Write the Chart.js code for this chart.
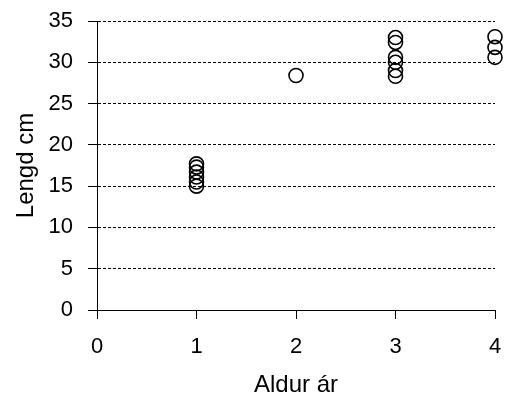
<!DOCTYPE html>
<html>
<head>
<meta charset="utf-8">
<script src="https://cdn.jsdelivr.net/npm/chart.js@4/dist/chart.umd.min.js"></script>
<style>
  html, body { margin: 0; padding: 0; background: #fff; }
  #wrap { width: 506px; height: 400px; }
</style>
</head>
<body>
<div id="wrap"><canvas id="lengdChart" width="506" height="400"></canvas></div>
<script>
// gögn lesin af myndinni
const aldur = [1, 1, 1, 1, 1, 1, 2, 3, 3, 3, 3, 3, 3, 4, 4, 4];
const lengd = [15.0, 15.5, 16.1, 16.7, 17.3, 17.7, 28.4, 33.0, 32.4, 30.6, 30.0, 29.0, 28.3, 33.1, 31.8, 30.6];
const xTicks = [0, 1, 2, 3, 4];
const yTicks = [0, 5, 10, 15, 20, 25, 30, 35];

const points = aldur.map((a, i) => ({ x: a, y: lengd[i] }));
const tickFont = { family: 'Liberation Sans, Arial, sans-serif', size: 22 };
const titleFont = { family: 'Liberation Sans, Arial, sans-serif', size: 24 };

document.addEventListener('DOMContentLoaded', function() {
    const ctx = document.getElementById('lengdChart').getContext('2d');
    new Chart(ctx, {
        type: 'scatter',
        data: {
            datasets: [{
                data: points,
                clip: false,
                pointStyle: 'circle',
                pointRadius: 7,
                pointHoverRadius: 7,
                pointBorderWidth: 1.6,
                pointBorderColor: '#000',
                pointBackgroundColor: 'rgba(0,0,0,0)'
            }]
        },
        options: {
            responsive: false,
            animation: false,
            layout: { padding: { left: 0, right: 11, top: 21, bottom: 0 } },
            plugins: { legend: { display: false }, tooltip: { enabled: false } },
            scales: {
                x: {
                    type: 'linear',
                    min: xTicks[0],
                    max: xTicks[xTicks.length - 1],
                    afterBuildTicks: s => { s.ticks = xTicks.map(v => ({ value: v })); },
                    afterFit: s => {
                        s.height = 90;
                        s.paddingLeft = 0; s.paddingRight = 0;
                    },
                    ticks: { color: '#000', font: tickFont, padding: 15, maxRotation: 0 },
                    grid: { drawOnChartArea: false, drawTicks: true, tickLength: 9, tickColor: '#000', tickWidth: 1 },
                    border: { color: '#000', width: 1 },
                    title: { display: true, text: 'Aldur ár', color: '#000', font: titleFont, padding: { top: 0, bottom: 0 } }
                },
                y: {
                    type: 'linear',
                    min: yTicks[0],
                    max: yTicks[yTicks.length - 1],
                    afterBuildTicks: s => { s.ticks = yTicks.map(v => ({ value: v })); },
                    afterFit: s => {
                        s.width = 97;
                        s.paddingTop = 0; s.paddingBottom = 0;
                    },
                    ticks: { color: '#000', font: tickFont, padding: 15 },
                    grid: {
                        color: c => c.tick && c.tick.value === 0 ? 'rgba(0,0,0,0)' : '#000',
                        lineWidth: 1,
                        drawTicks: true,
                        tickLength: 9,
                        tickColor: '#000',
                        tickBorderDash: []
                    },
                    border: { color: '#000', width: 1, dash: [3, 2] },
                    title: { display: true, text: 'Lengd cm', color: '#000', font: titleFont, padding: { top: 12, bottom: 0 } }
                }
            }
        }
    });
});
</script>
</body>
</html>
